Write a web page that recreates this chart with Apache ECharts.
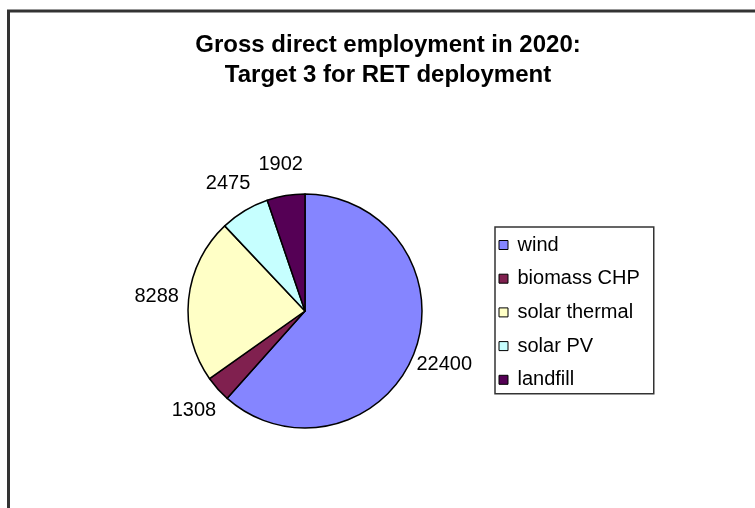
<!DOCTYPE html>
<html>
<head>
<meta charset="utf-8">
<script src="https://cdn.jsdelivr.net/npm/echarts@6/dist/echarts.min.js"></script>
<style>
html,body{margin:0;padding:0;background:#fff;}
#chart{width:755px;height:508px;}
</style>
</head>
<body>
<div id="chart"></div>
<script>
const titleLines = ['Gross direct employment in 2020:', 'Target 3 for RET deployment'];
const categories = ['wind', 'biomass CHP', 'solar thermal', 'solar PV', 'landfill'];
const values = [22400, 1308, 8288, 2475, 1902];
const colors = ['#8585ff', '#80204f', '#ffffc6', '#c6ffff', '#550055'];

const chart = echarts.init(document.getElementById('chart'), null, {renderer: 'canvas'});
const font = '"Liberation Sans", Arial, sans-serif';
const pieData = categories.map((n, i) => ({name: n, value: values[i]}));

chart.setOption({
  animation: false,
  backgroundColor: '#fff',
  color: colors,
  title: {
    text: titleLines.join('\n'),
    left: 388,
    textAlign: 'center',
    top: 30,
    padding: 0,
    textStyle: {
      fontFamily: font,
      fontWeight: 'bold',
      fontSize: 24,
      lineHeight: 30,
      color: '#000'
    }
  },
  graphic: [{
    type: 'rect',
    shape: {x: 8.5, y: 11, width: 800, height: 600},
    style: {fill: 'none', stroke: '#333', lineWidth: 3},
    silent: true,
    z: 100
  }],
  legend: {
    orient: 'vertical',
    left: 495,
    top: 227,
    data: categories,
    icon: 'path://M0,0H10V10H0Z',
    itemWidth: 18,
    itemHeight: 9,
    itemGap: 13.7,
    padding: [8, 14, 4, 3.5],
    borderColor: '#333',
    borderWidth: 1.5,
    itemStyle: {borderColor: '#000', borderWidth: 1},
    textStyle: {fontFamily: font, fontSize: 20, lineHeight: 20, color: '#000'}
  },
  series: [{
    type: 'pie',
    center: [305, 311],
    radius: 117,
    startAngle: 90,
    clockwise: true,
    data: pieData,
    itemStyle: {borderColor: '#000', borderWidth: 1.5},
    label: {show: false},
    labelLine: {show: false},
    emphasis: {disabled: true}
  }, {
    type: 'pie',
    center: [305, 311],
    radius: [118, 174],
    startAngle: 90,
    clockwise: true,
    silent: true,
    data: pieData,
    itemStyle: {color: 'rgba(0,0,0,0)', borderWidth: 0},
    label: {
      show: true,
      position: 'inside',
      formatter: '{c}',
      fontFamily: font,
      fontSize: 20,
      color: '#000'
    },
    labelLayout: {hideOverlap: false},
    labelLine: {show: false},
    emphasis: {disabled: true}
  }]
});
</script>
</body>
</html>
